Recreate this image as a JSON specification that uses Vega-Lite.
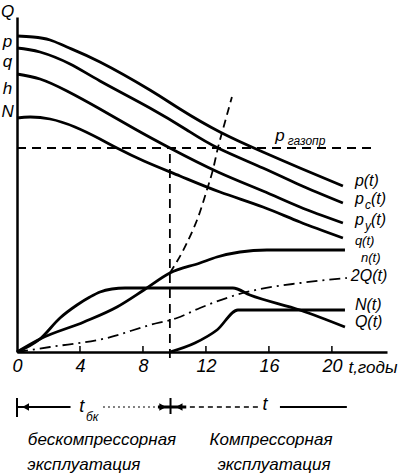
{
  "$schema": "https://vega.github.io/schema/vega-lite/v6.json",
  "width": 370,
  "height": 335,
  "autosize": {"type": "none"},
  "padding": {"left": 17, "top": 17, "right": 12, "bottom": 123},
  "background": "white",
  "config": {
    "view": {"stroke": null},
    "axis": {"grid": false},
    "text": {"font": "Liberation Sans", "fontStyle": "italic", "color": "black"}
  },
  "datasets": {
    "pressures": [
      {"series": "p", "t": 0, "v": 316}, {"series": "p", "t": 1.02, "v": 315}, {"series": "p", "t": 2.1, "v": 312}, {"series": "p", "t": 3.17, "v": 305}, {"series": "p", "t": 5.27, "v": 290}, {"series": "p", "t": 8.44, "v": 262}, {"series": "p", "t": 10.35, "v": 243}, {"series": "p", "t": 12.89, "v": 220}, {"series": "p", "t": 15.62, "v": 200}, {"series": "p", "t": 17.97, "v": 184}, {"series": "p", "t": 20.7, "v": 166},
      {"series": "pc", "t": 0, "v": 304}, {"series": "pc", "t": 1.46, "v": 300}, {"series": "pc", "t": 3.37, "v": 288}, {"series": "pc", "t": 5.27, "v": 271}, {"series": "pc", "t": 8.44, "v": 244}, {"series": "pc", "t": 10.79, "v": 222}, {"series": "pc", "t": 12.76, "v": 204}, {"series": "pc", "t": 15.62, "v": 184}, {"series": "pc", "t": 17.97, "v": 167}, {"series": "pc", "t": 20.7, "v": 149},
      {"series": "py", "t": 0, "v": 278}, {"series": "py", "t": 1.46, "v": 273}, {"series": "py", "t": 3.17, "v": 261}, {"series": "py", "t": 5.27, "v": 243}, {"series": "py", "t": 7.49, "v": 223}, {"series": "py", "t": 9.71, "v": 204}, {"series": "py", "t": 12.76, "v": 180}, {"series": "py", "t": 15.62, "v": 161}, {"series": "py", "t": 17.97, "v": 145}, {"series": "py", "t": 20.7, "v": 129},
      {"series": "q", "t": 0, "v": 234}, {"series": "q", "t": 0.83, "v": 235}, {"series": "q", "t": 2.1, "v": 233}, {"series": "q", "t": 3.68, "v": 225}, {"series": "q", "t": 5.27, "v": 213}, {"series": "q", "t": 6.35, "v": 204}, {"series": "q", "t": 8.06, "v": 191}, {"series": "q", "t": 10.35, "v": 176}, {"series": "q", "t": 12.89, "v": 160}, {"series": "q", "t": 15.62, "v": 145}, {"series": "q", "t": 17.97, "v": 130}, {"series": "q", "t": 20.7, "v": 114}
    ],
    "curves": [
      {"series": "n", "t": 0, "v": 0}, {"series": "n", "t": 1.46, "v": 13}, {"series": "n", "t": 4.25, "v": 30}, {"series": "n", "t": 6.35, "v": 45}, {"series": "n", "t": 8.06, "v": 62}, {"series": "n", "t": 9.71, "v": 79}, {"series": "n", "t": 11.62, "v": 89}, {"series": "n", "t": 12.7, "v": 95}, {"series": "n", "t": 14.16, "v": 100}, {"series": "n", "t": 15.87, "v": 102}, {"series": "n", "t": 20.83, "v": 102},
      {"series": "Q", "t": 0, "v": 0}, {"series": "Q", "t": 1.46, "v": 13}, {"series": "Q", "t": 2.73, "v": 34}, {"series": "Q", "t": 3.81, "v": 47}, {"series": "Q", "t": 4.63, "v": 55}, {"series": "Q", "t": 5.27, "v": 60}, {"series": "Q", "t": 6.03, "v": 63}, {"series": "Q", "t": 6.86, "v": 64}, {"series": "Q", "t": 13.71, "v": 64}, {"series": "Q", "t": 14.79, "v": 57}, {"series": "Q", "t": 17.97, "v": 42}, {"series": "Q", "t": 20.83, "v": 25},
      {"series": "N", "t": 9.71, "v": 0}, {"series": "N", "t": 11.3, "v": 9}, {"series": "N", "t": 12.7, "v": 22}, {"series": "N", "t": 14.03, "v": 42}, {"series": "N", "t": 15.43, "v": 42}, {"series": "N", "t": 20.83, "v": 42}
    ],
    "nDashed": [
      {"t": 9.71, "v": 79}, {"t": 10.79, "v": 109}, {"t": 11.62, "v": 140}, {"t": 12.06, "v": 162}, {"t": 12.44, "v": 182}, {"t": 12.76, "v": 204}, {"t": 13.21, "v": 230}, {"t": 13.65, "v": 255}
    ],
    "twoQ": [
      {"t": 0, "v": 0}, {"t": 2.1, "v": 5}, {"t": 5.71, "v": 14}, {"t": 8.44, "v": 27}, {"t": 10.16, "v": 34}, {"t": 11.62, "v": 44}, {"t": 14.35, "v": 59}, {"t": 17.97, "v": 69}, {"t": 20.95, "v": 74}
    ],
    "ticks": [
      {"t": 4, "v": 0, "v2": 6}, {"t": 8, "v": 0, "v2": 6}, {"t": 12, "v": 0, "v2": 6}, {"t": 16, "v": 0, "v2": 6}, {"t": 20, "v": 0, "v2": 6}
    ],
    "dashedRefs": [
      {"t": 0, "t2": 22.5, "v": 204, "v2": 204},
      {"t": 9.71, "t2": 9.71, "v": -6, "v2": 204}
    ],
    "annSolid": [
      {"t": 0, "t2": 3.4, "v": -55, "v2": -55},
      {"t": 16.7, "t2": 20.95, "v": -55, "v2": -55},
      {"t": 0, "t2": 0, "v": -46, "v2": -65},
      {"t": 9.75, "t2": 9.75, "v": -46, "v2": -62}
    ],
    "annThick": [
      {"t": 8.95, "t2": 10.75, "v": -55, "v2": -55}
    ],
    "annDotted": [
      {"t": 5.46, "t2": 8.89, "v": -55, "v2": -55}
    ],
    "annDashed": [
      {"t": 10.98, "t2": 15.3, "v": -55, "v2": -55}
    ],
    "arrowsLeft": [
      {"t": 0.55, "v": -55}, {"t": 10.3, "v": -55}
    ],
    "arrowsRight": [
      {"t": 9.25, "v": -55}
    ],
    "bigLabels": [
      {"t": 21.46, "v": 171, "label": "p(t)"},
      {"t": 21.46, "v": 153, "label": "p"},
      {"t": 22.48, "v": 153, "label": "(t)"},
      {"t": 21.46, "v": 132, "label": "p"},
      {"t": 22.48, "v": 132, "label": "(t)"},
      {"t": 21.2, "v": 76, "label": "2Q(t)"},
      {"t": 21.46, "v": 47, "label": "N(t)"},
      {"t": 21.46, "v": 30, "label": "Q(t)"}
    ],
    "axisTitle": [
      {"t": 21.05, "v": -16, "label": "t,годы"}
    ],
    "axisLabels": [
      {"t": 3.95, "v": -55, "label": "t"},
      {"t": 15.6, "v": -53, "label": "t"}
    ],
    "midLabels": [
      {"t": 21.46, "v": 111, "label": "q(t)"},
      {"t": 21.85, "v": 94, "label": "n(t)"}
    ],
    "subLabels": [
      {"t": 22.1, "v": 147, "label": "с"},
      {"t": 22.1, "v": 126, "label": "у"},
      {"t": 4.38, "v": -65, "label": "бк"},
      {"t": 17.2, "v": 211, "label": "газопр"}
    ],
    "centerLabels": [
      {"t": -0.6, "v": 340, "label": "Q"},
      {"t": -0.6, "v": 310, "label": "p"},
      {"t": -0.6, "v": 290, "label": "q"},
      {"t": -0.6, "v": 263, "label": "h"},
      {"t": -0.6, "v": 240, "label": "N"},
      {"t": 16.7, "v": 216, "label": "p"},
      {"t": 5.4, "v": -88, "label": "бескомпрессорная"},
      {"t": 4.25, "v": -113, "label": "эксплуатация"},
      {"t": 16.13, "v": -88, "label": "Компрессорная"},
      {"t": 16.32, "v": -113, "label": "эксплуатация"}
    ]
  },
  "encoding": {
    "x": {
      "field": "t", "type": "quantitative",
      "scale": {"domain": [0, 23.5], "nice": false, "zero": false},
      "axis": {"values": [0, 4, 8, 12, 16, 20], "ticks": false, "domainColor": "black", "domainWidth": 2.5, "labelFont": "Liberation Sans", "labelFontStyle": "italic", "labelFontSize": 18, "labelColor": "black", "labelPadding": 5, "labelFlush": false, "labelOverlap": false, "title": null}
    },
    "y": {
      "field": "v", "type": "quantitative",
      "scale": {"domain": [0, 335], "nice": false, "zero": false},
      "axis": {"labels": false, "ticks": false, "domainColor": "black", "domainWidth": 2.5, "title": null}
    }
  },
  "layer": [
    {
      "data": {"name": "pressures"},
      "mark": {"type": "line", "color": "black", "strokeWidth": 2.8, "interpolate": "natural", "clip": false},
      "encoding": {"detail": {"field": "series"}}
    },
    {
      "data": {"name": "curves"},
      "mark": {"type": "line", "color": "black", "strokeWidth": 2.8, "interpolate": "monotone", "clip": false},
      "encoding": {"detail": {"field": "series"}}
    },
    {
      "data": {"name": "nDashed"},
      "mark": {"type": "line", "color": "black", "strokeWidth": 1.8, "strokeDash": [8, 5], "interpolate": "monotone", "clip": false},
      "encoding": {}
    },
    {
      "data": {"name": "twoQ"},
      "mark": {"type": "line", "color": "black", "strokeWidth": 1.8, "strokeDash": [11, 5, 2, 5], "interpolate": "monotone", "clip": false},
      "encoding": {}
    },
    {
      "data": {"name": "ticks"},
      "mark": {"type": "rule", "color": "black", "strokeWidth": 1.5},
      "encoding": {"y2": {"field": "v2"}}
    },
    {
      "data": {"name": "dashedRefs"},
      "mark": {"type": "rule", "color": "black", "strokeWidth": 1.8, "strokeDash": [9, 6], "clip": false},
      "encoding": {"x2": {"field": "t2"}, "y2": {"field": "v2"}}
    },
    {
      "data": {"name": "annSolid"},
      "mark": {"type": "rule", "color": "black", "strokeWidth": 2, "clip": false},
      "encoding": {"x2": {"field": "t2"}, "y2": {"field": "v2"}}
    },
    {
      "data": {"name": "annThick"},
      "mark": {"type": "rule", "color": "black", "strokeWidth": 3, "clip": false},
      "encoding": {"x2": {"field": "t2"}, "y2": {"field": "v2"}}
    },
    {
      "data": {"name": "annDotted"},
      "mark": {"type": "rule", "color": "black", "strokeWidth": 1.2, "strokeDash": [2, 3], "clip": false},
      "encoding": {"x2": {"field": "t2"}, "y2": {"field": "v2"}}
    },
    {
      "data": {"name": "annDashed"},
      "mark": {"type": "rule", "color": "black", "strokeWidth": 1.5, "strokeDash": [5, 4], "clip": false},
      "encoding": {"x2": {"field": "t2"}, "y2": {"field": "v2"}}
    },
    {
      "data": {"name": "arrowsLeft"},
      "mark": {"type": "point", "shape": "triangle-left", "filled": true, "color": "black", "size": 60, "opacity": 1, "clip": false}
    },
    {
      "data": {"name": "arrowsRight"},
      "mark": {"type": "point", "shape": "triangle-right", "filled": true, "color": "black", "size": 60, "opacity": 1, "clip": false}
    },
    {
      "data": {"name": "bigLabels"},
      "mark": {"type": "text", "align": "left", "baseline": "middle", "fontSize": 16, "clip": false},
      "encoding": {"text": {"field": "label"}}
    },
    {
      "data": {"name": "axisTitle"},
      "mark": {"type": "text", "align": "left", "baseline": "middle", "fontSize": 17, "clip": false},
      "encoding": {"text": {"field": "label"}}
    },
    {
      "data": {"name": "axisLabels"},
      "mark": {"type": "text", "align": "left", "baseline": "middle", "fontSize": 18, "clip": false},
      "encoding": {"text": {"field": "label"}}
    },
    {
      "data": {"name": "midLabels"},
      "mark": {"type": "text", "align": "left", "baseline": "middle", "fontSize": 13, "clip": false},
      "encoding": {"text": {"field": "label"}}
    },
    {
      "data": {"name": "subLabels"},
      "mark": {"type": "text", "align": "left", "baseline": "middle", "fontSize": 12, "clip": false},
      "encoding": {"text": {"field": "label"}}
    },
    {
      "data": {"name": "centerLabels"},
      "mark": {"type": "text", "align": "center", "baseline": "middle", "fontSize": 17, "clip": false},
      "encoding": {"text": {"field": "label"}}
    }
  ]
}
